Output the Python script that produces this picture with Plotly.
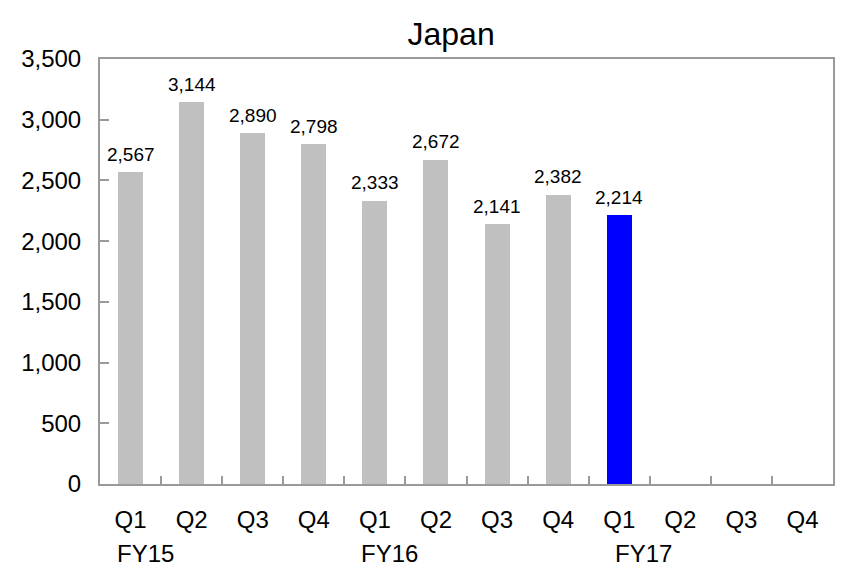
import plotly.graph_objects as go

# Quarterly figures for Japan
quarters = ["Q1", "Q2", "Q3", "Q4", "Q1", "Q2", "Q3", "Q4", "Q1", "Q2", "Q3", "Q4"]
fiscal_years = ["FY15", "FY16", "FY17"]
values = [2567, 3144, 2890, 2798, 2333, 2672, 2141, 2382, 2214, None, None, None]
current_index = 8  # latest quarter highlighted

FONT = "Liberation Sans, Arial, sans-serif"
GRAY_BAR = "#c0c0c0"
BLUE_BAR = "#0000ff"
FRAME = "#9a9a9a"

x_pos = list(range(len(quarters)))
colors = [BLUE_BAR if i == current_index else GRAY_BAR for i in x_pos]

fig = go.Figure()
fig.add_trace(go.Bar(
    x=x_pos, y=values, width=0.41,
    marker=dict(color=colors, line=dict(width=0)),
    hoverinfo="skip", showlegend=False,
))

# invisible helper trace so the boundary-tick axis is drawn
fig.add_trace(go.Scatter(x=[0], y=[0], xaxis="x2", mode="markers",
                         marker=dict(opacity=0), hoverinfo="skip", showlegend=False))

annotations = []
for i, v in enumerate(values):
    if v is None:
        continue
    annotations.append(dict(
        x=i, y=v, xref="x", yref="y", text=f"{v:,}", showarrow=False,
        yanchor="middle", yshift=18, font=dict(family=FONT, size=19, color="#000"),
    ))

# fiscal-year labels under the first quarter of each year
fy_shift = [15, 15, 24]
for k, fy in enumerate(fiscal_years):
    annotations.append(dict(
        x=4 * k, y=0, xref="x", yref="paper", text=fy, showarrow=False,
        yanchor="middle", yshift=-69, xshift=fy_shift[k],
        font=dict(family=FONT, size=24, color="#000"),
    ))

fig.update_layout(
    width=843, height=572,
    margin=dict(l=100, r=8, t=59, b=88),
    paper_bgcolor="white", plot_bgcolor="white",
    title=dict(text="Japan", x=0.479, xref="paper", xanchor="center",
               y=1 - 34 / 572, yref="container", yanchor="middle",
               font=dict(family=FONT, size=32, color="#000")),
    font=dict(family=FONT, color="#000"),
    bargap=0,
    xaxis=dict(
        range=[-0.5, 11.5], tickvals=x_pos, ticktext=quarters,
        ticks="", showgrid=False, zeroline=False,
        showline=True, linecolor=FRAME, linewidth=2, mirror=True,
        tickfont=dict(family=FONT, size=24, color="#000"),
        ticklabelstandoff=13,
    ),
    xaxis2=dict(
        range=[-0.5, 11.5], overlaying="x", anchor="y", side="bottom",
        tickvals=[i + 0.5 for i in range(11)], showticklabels=False,
        ticks="inside", ticklen=8, tickcolor=FRAME, tickwidth=1.5,
        showgrid=False, zeroline=False, showline=False,
    ),
    yaxis=dict(
        range=[0, 3500], tickvals=list(range(0, 3501, 500)), tickformat=",",
        ticks="inside", ticklen=9, tickcolor=FRAME, tickwidth=1.5,
        showgrid=False, zeroline=False,
        showline=True, linecolor=FRAME, linewidth=2, mirror=True,
        tickfont=dict(family=FONT, size=24, color="#000"),
        ticklabelstandoff=12,
    ),
    annotations=annotations,
)

fig.write_html("out.html")
